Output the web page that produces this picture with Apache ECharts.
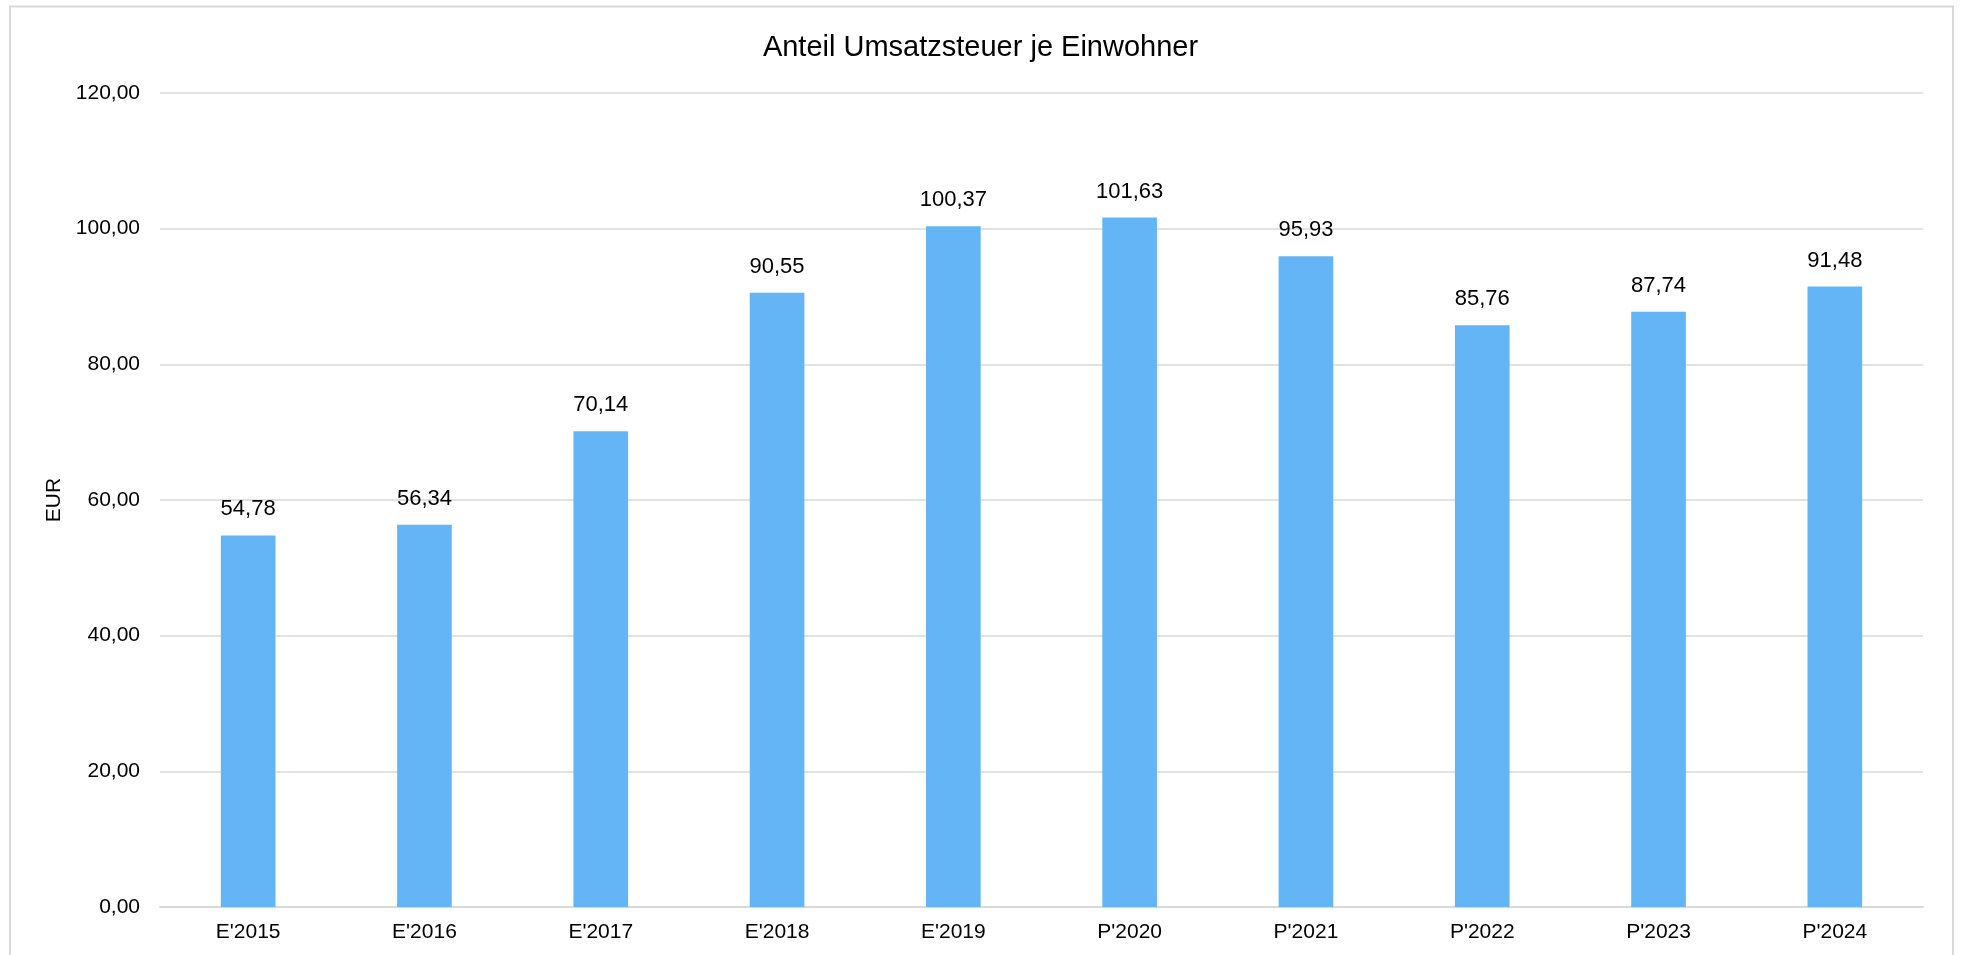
<!DOCTYPE html>
<html>
<head>
<meta charset="utf-8">
<script src="https://cdn.jsdelivr.net/npm/echarts@6/dist/echarts.min.js"></script>
<style>
  html, body { margin: 0; padding: 0; background: #fff; }
  #chart { width: 1961px; height: 955px; }
</style>
</head>
<body>
<div id="chart"></div>
<script>
// Umsatzsteueranteil je Einwohner (E = Ergebnis, P = Plan)
const categories = ["E'2015", "E'2016", "E'2017", "E'2018", "E'2019", "P'2020", "P'2021", "P'2022", "P'2023", "P'2024"];
const values = [54.78, 56.34, 70.14, 90.55, 100.37, 101.63, 95.93, 85.76, 87.74, 91.48];
const yTicks = { min: 0, max: 120, interval: 20 };

const fmt = v => v.toFixed(2).replace('.', ',');
const font = 'Liberation Sans, Arial, Helvetica, sans-serif';

const chart = echarts.init(document.getElementById('chart'), null, { renderer: 'canvas' });
chart.setOption({
  backgroundColor: '#ffffff',
  animation: false,
  textStyle: { fontFamily: font, color: '#000' },
  graphic: [{
    type: 'rect',
    silent: true,
    shape: { x: 10, y: 6.5, width: 1943, height: 960 },
    style: { fill: 'none', stroke: '#d9d9d9', lineWidth: 2 }
  }],
  title: {
    text: 'Anteil Umsatzsteuer je Einwohner',
    left: 'center',
    top: 28,
    textStyle: { fontFamily: font, fontSize: 29, fontWeight: 'normal', color: '#000' }
  },
  grid: { left: 160, right: 38, top: 93, bottom: 48, containLabel: false },
  xAxis: {
    type: 'category',
    data: categories,
    axisLine: { show: true, lineStyle: { color: '#d9d9d9', width: 2 } },
    axisTick: { show: false },
    axisLabel: { color: '#000', fontSize: 21, fontFamily: font, margin: 15 }
  },
  yAxis: {
    type: 'value',
    min: yTicks.min,
    max: yTicks.max,
    interval: yTicks.interval,
    name: 'EUR',
    nameLocation: 'middle',
    nameGap: 92,
    nameRotate: 90,
    nameTextStyle: { color: '#000', fontSize: 21, fontFamily: font },
    axisLine: { show: false },
    axisTick: { show: false },
    splitLine: { lineStyle: { color: '#d9d9d9', width: 1.5 } },
    axisLabel: { color: '#000', fontSize: 21, fontFamily: font, margin: 20, formatter: fmt }
  },
  series: [{
    type: 'bar',
    data: values,
    barWidth: '31%',
    itemStyle: { color: '#64b5f6' },
    label: {
      show: true,
      position: 'top',
      distance: 15,
      color: '#000',
      fontSize: 22,
      fontFamily: font,
      formatter: p => fmt(p.value)
    }
  }]
});
</script>
</body>
</html>
